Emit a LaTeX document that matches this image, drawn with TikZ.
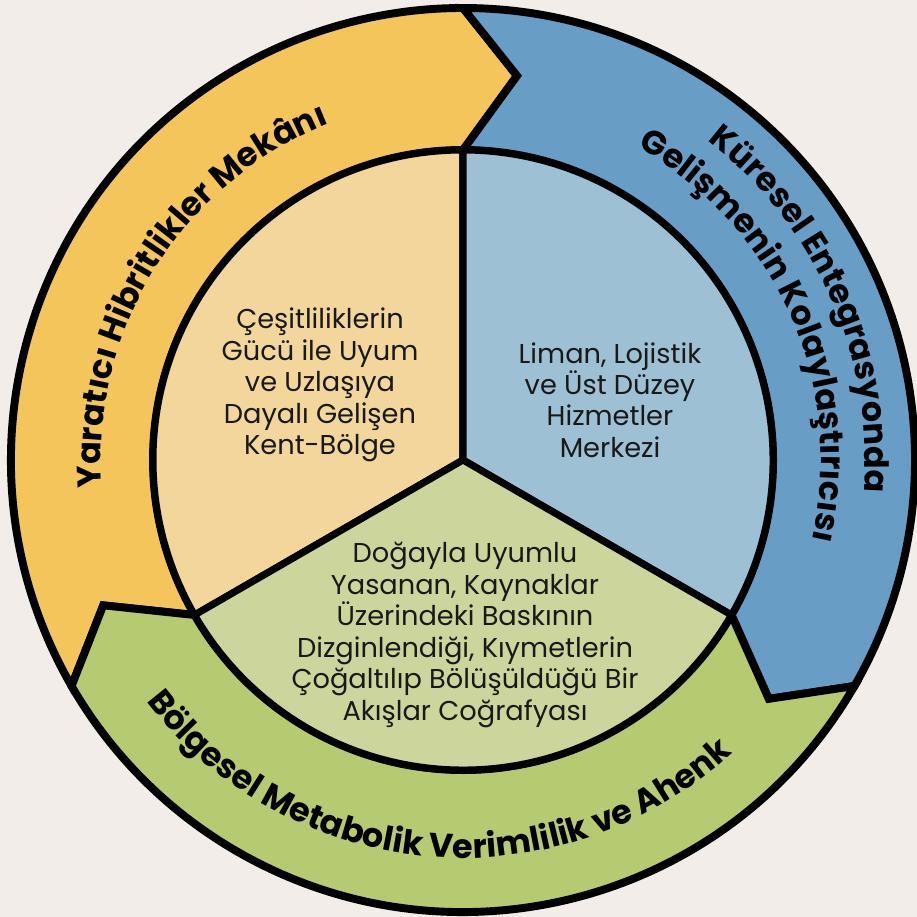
\documentclass[tikz,border=0pt]{standalone}
\usepackage{fontspec}
\setmainfont{Poppins}
\usetikzlibrary{decorations.text}

\definecolor{bgcolor}{RGB}{243,237,233}
\definecolor{ringyellow}{RGB}{243,197,90}
\definecolor{ringblue}{RGB}{104,157,198}
\definecolor{ringgreen}{RGB}{181,202,113}
\definecolor{softyellow}{RGB}{242,214,155}
\definecolor{softblue}{RGB}{158,192,212}
\definecolor{softgreen}{RGB}{204,214,156}

\newcommand{\arcfont}{\bfseries\fontsize{19}{19}\selectfont}

\begin{document}
\begin{tikzpicture}[
        segment/.style={draw=black, line width=4.5pt, line join=miter},
        sector/.style={draw=black, line width=4pt, line join=round},
        inlabel/.style={align=center, font=\fontsize{15.5}{17.9}\selectfont, text=black!90},
        arclabel/.style={decorate, decoration={text along path, text align=center, text={|\arcfont|#1}}}
    ]

    % Background
    \useasboundingbox (-9.26,-9.14) rectangle (9.08,9.2);
    \fill[bgcolor] (-9.26,-9.14) rectangle (9.08,9.2);

    % Outer ring (three arrows)
    \filldraw[segment, fill=ringyellow] (210:9.04) arc[start angle=210, end angle=90, radius=9.04]
        -- (82:7.76) -- (90:6.2) arc[start angle=90, end angle=210, radius=6.2] -- (202:7.76) -- cycle;
    \filldraw[segment, fill=ringblue] (90:9.04) arc[start angle=90, end angle=-30, radius=9.04]
        -- (-38:7.76) -- (-30:6.2) arc[start angle=-30, end angle=90, radius=6.2] -- (82:7.76) -- cycle;
    \filldraw[segment, fill=ringgreen] (-30:9.04) arc[start angle=-30, end angle=-150, radius=9.04]
        -- (-158:7.76) -- (-150:6.2) arc[start angle=-150, end angle=-30, radius=6.2] -- (-38:7.76) -- cycle;

    % Inner circle
    \filldraw[sector, fill=softyellow] (0,0) -- (90:6.2) arc[start angle=90, end angle=210, radius=6.2] -- cycle;
    \filldraw[sector, fill=softblue] (0,0) -- (-30:6.2) arc[start angle=-30, end angle=90, radius=6.2] -- cycle;
    \filldraw[sector, fill=softgreen] (0,0) -- (210:6.2) arc[start angle=210, end angle=330, radius=6.2] -- cycle;

    % Inner labels
    \node[inlabel] (kent) at (-2.86,1.5) {Çeşitliliklerin\\Gücü ile Uyum\\ve Uzlaşıya\\Dayalı Gelişen\\Kent-Bölge};
    \node[inlabel] (liman) at (2.94,1.2) {Liman, Lojistik\\ve Üst Düzey\\Hizmetler\\Merkezi};
    \node[inlabel] (akis) at (0.04,-3.5) {Doğayla Uyumlu\\Yasanan, Kaynaklar\\Üzerindeki Baskının\\Dizginlendiği, Kıymetlerin\\Çoğaltılıp Bölüşüldüğü Bir\\Akışlar Coğrafyası};

    % Ring labels
    \path[arclabel={Yaratıcı Hibritlikler Mekânı}] (208:7.24) arc[start angle=208, end angle=88, radius=7.24];
    \path[arclabel={Küresel Entegrasyonda}] (84:8.04) arc[start angle=84, end angle=-36, radius=8.04];
    \path[arclabel={Gelişmenin Kolaylaştırıcısı}] (84:7.16) arc[start angle=84, end angle=-36, radius=7.16];
    \path[arclabel={Bölgesel Metabolik Verimlilik ve Ahenk}] (194:7.96) arc[start angle=194, end angle=336, radius=7.96];

\end{tikzpicture}
\end{document}
